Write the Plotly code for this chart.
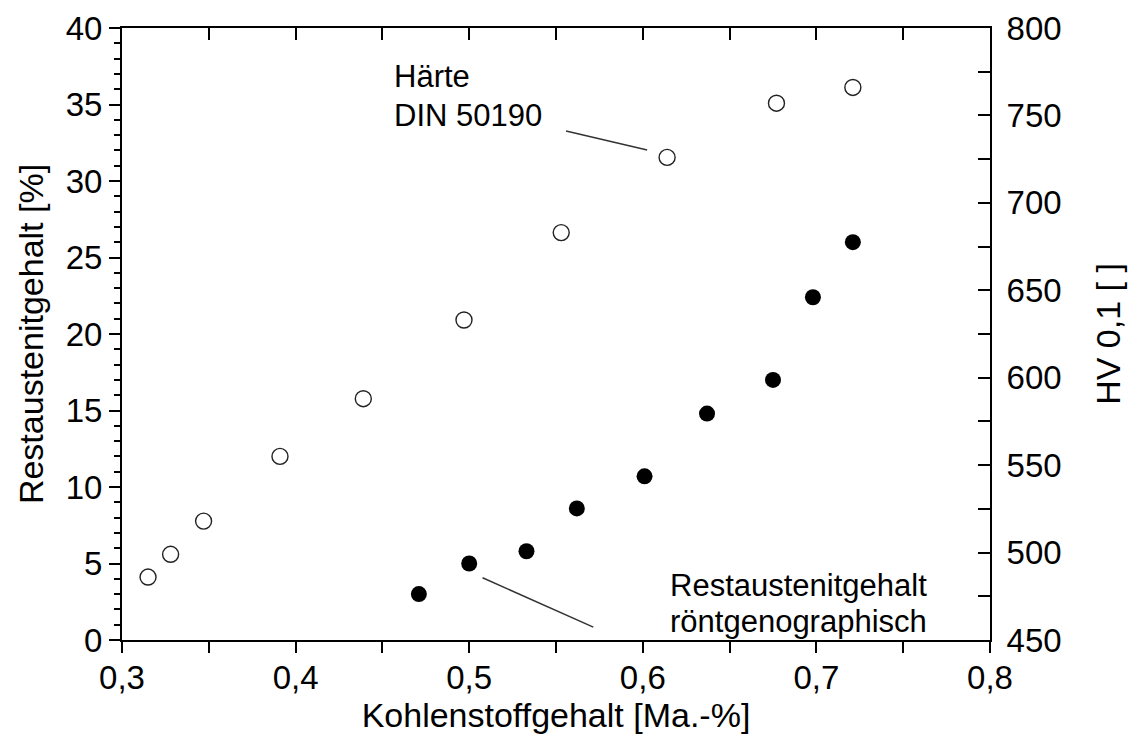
import plotly.graph_objects as go

# Data
carbon_haerte = [0.315, 0.328, 0.347, 0.391, 0.439, 0.497, 0.553, 0.614, 0.677, 0.721]
haerte_hv = [486, 499, 518, 555, 588, 633, 683, 726, 757, 766]

carbon_ra = [0.471, 0.500, 0.533, 0.562, 0.601, 0.637, 0.675, 0.698, 0.721]
restaustenit = [3.0, 5.0, 5.8, 8.6, 10.7, 14.8, 17.0, 22.4, 26.0]

x_title = "Kohlenstoffgehalt [Ma.-%]"
y_title = "Restaustenitgehalt [%]"
y2_title = "HV 0,1 [ ]"

FONT = "Liberation Sans, Arial, sans-serif"
FS_ANN = 31
FS_TICK = 33
FS_TITLE = 34

fig = go.Figure()

fig.add_trace(go.Scatter(
    x=carbon_haerte, y=haerte_hv, xaxis="x", yaxis="y2", mode="markers",
    marker=dict(symbol="circle-open", size=16, color="#222222", line=dict(width=1.4)),
    showlegend=False, hoverinfo="skip"))

fig.add_trace(go.Scatter(
    x=carbon_ra, y=restaustenit, xaxis="x", yaxis="y", mode="markers",
    marker=dict(symbol="circle", size=16, color="black", line=dict(width=0)),
    showlegend=False, hoverinfo="skip"))

# empty trace so the top (mirror) axis is drawn
fig.add_trace(go.Scatter(x=[], y=[], xaxis="x2", yaxis="y", showlegend=False))

# leader lines
fig.add_shape(type="line", xref="x", yref="y", x0=0.5558, y0=33.27, x1=0.6025, y1=32.03,
              line=dict(color="#333333", width=1.5))
fig.add_shape(type="line", xref="x", yref="y", x0=0.5077, y0=4.07, x1=0.5715, y1=0.84,
              line=dict(color="#333333", width=1.5))

def txt(s, x, y):
    fig.add_annotation(text=s, x=x, y=y, xref="x", yref="y", xanchor="left", yanchor="middle",
                       showarrow=False, font=dict(family=FONT, size=FS_ANN, color="black"))

txt("Härte", 0.4555, 36.8)
txt("DIN 50190", 0.4555, 34.3)
txt("Restaustenitgehalt", 0.6145, 3.53)
txt("röntgenographisch", 0.6145, 1.24)

tick_font = dict(family=FONT, size=FS_TICK, color="black")
title_font = dict(family=FONT, size=FS_TITLE, color="black")

fig.update_layout(
    width=1140, height=745,
    margin=dict(l=122, r=150, t=28, b=105),
    paper_bgcolor="white", plot_bgcolor="white",
    separators=", ",
    font=tick_font,
    xaxis=dict(
        range=[0.3, 0.8], dtick=0.1, tick0=0.3, tickformat=".1f",
        showline=True, linecolor="black", linewidth=2,
        ticks="outside", ticklen=11, tickwidth=2, tickcolor="black",
        minor=dict(dtick=0.05, ticks="outside", ticklen=11, tickwidth=2, tickcolor="black"),
        showgrid=False, zeroline=False, tickfont=tick_font,
        ticklabelstandoff=-4,
        title=dict(text=x_title, font=title_font, standoff=8),
        automargin=False,
    ),
    xaxis2=dict(
        range=[0.3, 0.8], overlaying="x", side="top", anchor="y",
        showline=True, linecolor="black", linewidth=2,
        ticks="inside", ticklen=12, tickwidth=2, tickcolor="black", dtick=0.05, tick0=0.3,
        showticklabels=False, showgrid=False, zeroline=False,
    ),
    yaxis=dict(
        range=[0, 40], dtick=5, tick0=0,
        showline=True, linecolor="black", linewidth=2,
        ticks="outside", ticklen=11, tickwidth=2, tickcolor="black",
        minor=dict(dtick=1, ticks="outside", ticklen=6, tickwidth=1.5, tickcolor="black"),
        showgrid=False, zeroline=False, tickfont=tick_font,
        title=dict(text=y_title, font=title_font, standoff=12),
        automargin=False,
    ),
    yaxis2=dict(
        range=[450, 800], dtick=50, tick0=450, overlaying="y", side="right", anchor="x",
        showline=True, linecolor="black", linewidth=2,
        ticks="inside", ticklen=12, tickwidth=2, tickcolor="black",
        minor=dict(dtick=25, ticks="inside", ticklen=12, tickwidth=2, tickcolor="black"),
        showgrid=False, zeroline=False, tickfont=tick_font,
        ticklabelstandoff=8,
        title=dict(text=y2_title, font=title_font, standoff=36),
        automargin=False,
    ),
)

fig.write_html("out.html")
